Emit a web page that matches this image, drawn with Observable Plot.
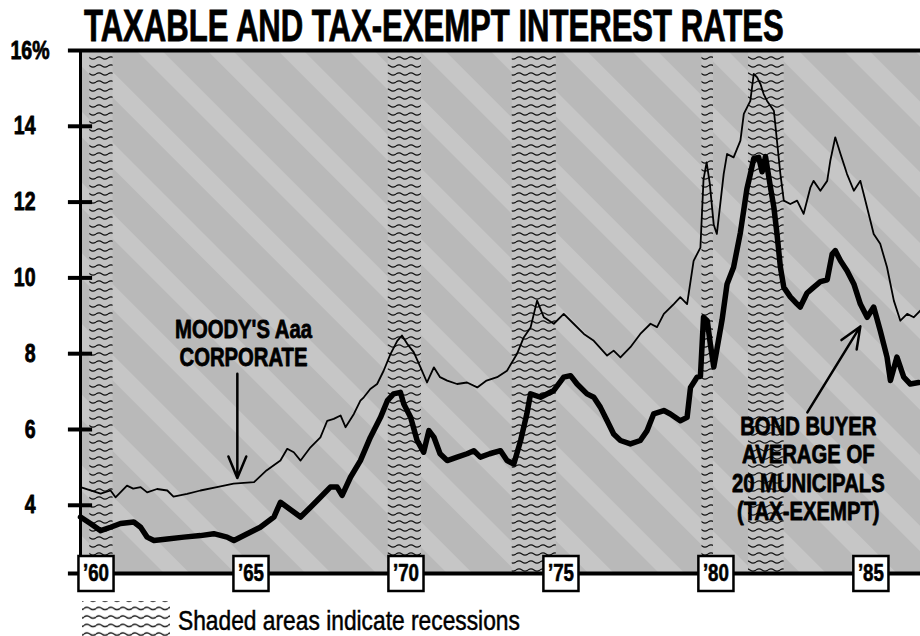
<!DOCTYPE html>
<html><head><meta charset="utf-8">
<script src="https://cdn.jsdelivr.net/npm/d3@7"></script>
<script src="https://cdn.jsdelivr.net/npm/@observablehq/plot@0.6"></script>
<style>
html,body{margin:0;padding:0;background:#fff;}
#wrap{width:920px;height:636px;position:relative;overflow:hidden;}
#wrap > svg{display:block;position:absolute;left:0;}
</style></head><body><div id="wrap"></div>
<script>
// ---------- DATA ----------
const titleText = "TAXABLE AND TAX-EXEMPT INTEREST RATES";
const captionText = "Shaded areas indicate recessions";

const yearTicks = [1960, 1965, 1970, 1975, 1980, 1985];
const rateTicks = [4, 6, 8, 10, 12, 14, 16];

const recStart = [1960.3, 1969.93, 1973.93, 1980.05, 1981.55];
const recEnd   = [1961.05, 1971.0, 1975.35, 1980.42, 1982.7];

// Moody's Aaa corporate (thin line)
const corpYear = [1960.0,1960.65,1960.97,1961.13,1961.5,1961.7,1961.94,1962.15,1962.47,1962.8,1963.0,1963.44,1963.87,1964.4,1964.94,1965.6,1966.0,1966.45,1966.67,1966.88,1967.1,1967.42,1967.74,1967.96,1968.17,1968.39,1968.55,1968.82,1969.03,1969.14,1969.35,1969.57,1969.78,1970.0,1970.22,1970.37,1970.54,1970.75,1970.97,1971.18,1971.4,1971.6,1971.83,1972.15,1972.47,1972.8,1973.1,1973.44,1973.76,1974.08,1974.3,1974.52,1974.73,1974.95,1975.27,1975.59,1975.91,1976.24,1976.56,1976.99,1977.2,1977.42,1977.74,1978.06,1978.39,1978.6,1978.82,1979.14,1979.35,1979.57,1979.78,1980.0,1980.1,1980.2,1980.3,1980.43,1980.53,1980.75,1980.86,1981.07,1981.29,1981.4,1981.61,1981.72,1981.83,1981.94,1982.04,1982.15,1982.37,1982.58,1982.69,1982.9,1983.12,1983.33,1983.55,1983.65,1983.87,1984.09,1984.19,1984.35,1984.52,1984.73,1984.95,1985.16,1985.32,1985.59,1985.8,1986.02,1986.24,1986.45,1986.67,1986.88,1987.1];
const corpRate = [4.48,4.31,4.39,4.21,4.52,4.44,4.48,4.34,4.43,4.39,4.23,4.30,4.39,4.48,4.57,4.61,4.92,5.18,5.49,5.40,5.18,5.53,5.79,6.23,6.28,6.37,6.06,6.41,6.76,6.85,7.07,7.20,7.55,7.99,8.34,8.48,8.26,8.04,7.64,7.24,7.64,7.38,7.29,7.20,7.24,7.11,7.29,7.38,7.55,7.99,8.43,8.69,9.40,8.96,8.79,9.05,8.79,8.52,8.34,7.95,8.08,7.90,8.17,8.52,8.79,8.70,9.05,9.31,9.49,9.31,10.45,10.8,12.6,13.05,12.5,11.4,11.16,12.74,13.27,13.18,13.62,14.33,14.67,15.38,15.29,15.11,14.85,14.67,14.41,12.74,12.04,11.95,12.04,11.69,12.39,12.56,12.30,12.56,13.09,13.71,13.27,12.74,12.30,12.56,12.04,11.16,10.90,10.28,9.40,8.87,9.05,8.96,9.14];

// Bond Buyer average of 20 municipals (thick line)
const muniYear = [1960.0,1960.32,1960.65,1960.97,1961.29,1961.72,1961.94,1962.15,1962.37,1962.8,1963.33,1963.87,1964.3,1964.73,1964.95,1965.38,1965.8,1966.24,1966.45,1966.67,1967.1,1967.42,1967.74,1968.06,1968.28,1968.44,1968.71,1969.03,1969.35,1969.68,1969.9,1970.1,1970.32,1970.43,1970.65,1970.86,1971.07,1971.24,1971.4,1971.6,1971.83,1972.15,1972.47,1972.69,1972.9,1973.2,1973.55,1973.76,1973.98,1974.2,1974.4,1974.52,1974.84,1975.27,1975.59,1975.81,1976.02,1976.34,1976.56,1976.77,1976.99,1977.2,1977.42,1977.74,1978.06,1978.28,1978.49,1978.82,1979.03,1979.35,1979.57,1979.68,1979.89,1980.0,1980.1,1980.22,1980.32,1980.43,1980.55,1980.7,1980.86,1981.07,1981.29,1981.5,1981.61,1981.72,1981.88,1981.99,1982.1,1982.26,1982.37,1982.47,1982.58,1982.69,1982.9,1983.12,1983.22,1983.44,1983.65,1983.87,1984.09,1984.25,1984.35,1984.52,1984.73,1984.95,1985.16,1985.38,1985.59,1985.8,1986.02,1986.13,1986.34,1986.56,1986.77,1987.04];
const muniRate = [3.69,3.52,3.33,3.42,3.52,3.56,3.42,3.16,3.07,3.11,3.16,3.20,3.25,3.16,3.07,3.25,3.42,3.69,4.08,3.95,3.69,3.95,4.21,4.48,4.48,4.26,4.74,5.18,5.79,6.32,6.76,6.94,6.98,6.67,6.32,5.71,5.40,5.97,5.80,5.36,5.18,5.27,5.36,5.44,5.27,5.36,5.44,5.18,5.09,5.71,6.41,6.94,6.85,7.03,7.38,7.42,7.20,6.94,6.85,6.59,6.23,5.88,5.71,5.62,5.71,5.97,6.41,6.50,6.41,6.23,6.32,7.11,7.38,7.4,8.96,8.87,8.25,7.65,8.2,8.9,9.84,10.28,11.2,12.35,12.74,13.15,13.18,12.8,13.2,12.39,11.86,11.16,10.28,9.75,9.5,9.31,9.23,9.6,9.75,9.9,9.95,10.63,10.72,10.45,10.19,9.84,9.31,8.96,9.23,8.61,7.91,7.29,7.91,7.38,7.20,7.24];

// annotations
const moodyLabel = "MOODY'S Aaa\nCORPORATE";
const bondLabel = "BOND BUYER\nAVERAGE OF\n20 MUNICIPALS\n(TAX-EXEMPT)";

// ---------- TABLES ----------
const corp = corpYear.map((t, i) => ({year: t, rate: corpRate[i]}));
const muni = muniYear.map((t, i) => ({year: t, rate: muniRate[i]}));
const recessions = recStart.map((s, i) => ({start: s, end: recEnd[i]}));
const notes = [
  {label: moodyLabel, x: 1965.26, y: 8.29},
  {label: bondLabel, x: 1983.48, y: 4.97}
];
const pointers = [
  {x1: 1965.06, y1: 7.47, x2: 1965.06, y2: 4.72},
  {x1: 1983.45, y1: 6.45, x2: 1985.16, y2: 8.72}
];

const xMin = 1960, xMax = 1987.1, yMin = 2.2, yMax = 16;
const stub = 0.39;
const FONT = "'Liberation Sans', Arial, Helvetica, sans-serif";

const wrap = document.getElementById("wrap");

// fit a text element horizontally to a target width by a scale transform
function fitText(node, x, y, target) {
  const w = node.getComputedTextLength();
  const s = target / w;
  node.setAttribute("x", 0);
  node.setAttribute("y", 0);
  node.setAttribute("transform", `translate(${x},${y}) scale(${s},1)`);
}

// ---------- PLOT ----------
const chart = Plot.plot({
  width: 920, height: 566,
  marginLeft: 80, marginRight: 0, marginTop: 20, marginBottom: 23,
  x: {domain: [xMin, xMax], axis: null},
  y: {domain: [yMin, yMax], axis: null},
  style: {fontFamily: FONT, background: "transparent", overflow: "visible", color: "#000"},
  marks: [
    Plot.frame({fill: "url(#bgpat)", stroke: "none"}),
    Plot.rect(recessions, {x1: "start", x2: "end", fill: "url(#recpat)"}),
    Plot.line(corp, {x: "year", y: "rate", stroke: "#000", strokeWidth: 1.8, strokeLinejoin: "round"}),
    Plot.line(muni, {x: "year", y: "rate", stroke: "#000", strokeWidth: 5.5, strokeLinejoin: "round", strokeLinecap: "round"}),
    Plot.ruleX([xMin], {y1: yMin, y2: yMax, stroke: "#000", strokeWidth: 3}),
    Plot.ruleY([yMin, yMax], {x1: xMin - stub, x2: xMax, stroke: "#000", strokeWidth: 4}),
    Plot.ruleY(rateTicks.filter(d => d < yMax), {x1: xMin - stub, x2: xMin + stub, stroke: "#000", strokeWidth: 4}),
    Plot.text(rateTicks.filter(d => d < yMax), {x: xMin, y: d => d, text: d => String(d), textAnchor: "end", dx: -45, fontSize: 25, fontWeight: "bold", fill: "#000", stroke: "#000", strokeWidth: 0.8}),
    Plot.text(rateTicks.filter(d => d === yMax), {x: xMin, y: d => d, text: d => d + "%", textAnchor: "start", dx: -70, fontSize: 25, fontWeight: "bold", fill: "#000", stroke: "#000", strokeWidth: 0.8}),
    Plot.dot(yearTicks, {x: d => d + 0.5, y: yMin, symbol: "square", r: 19.8, fill: "#fff", stroke: "#000", strokeWidth: 2.5}),
    Plot.text(yearTicks, {x: d => d + 0.5, y: yMin, text: d => "\u2019" + String(d).slice(2), fontSize: 24, fontWeight: "bold", fill: "#000", stroke: "#000", strokeWidth: 0.6}),
    Plot.arrow(pointers, {x1: "x1", y1: "y1", x2: "x2", y2: "y2", stroke: "#000", strokeWidth: 2.5, headLength: 14, headAngle: 45}),
    Plot.text(notes, {x: "x", y: "y", text: "label", fontSize: 26, lineHeight: 1.08, fontWeight: "bold", fill: "#000", stroke: "#000", strokeWidth: 0.8})
  ]
});
chart.insertAdjacentHTML("afterbegin", `<defs>
<pattern id="bgpat" patternUnits="userSpaceOnUse" width="50" height="50" patternTransform="rotate(45)">
<rect width="50" height="50" fill="#b9b9b9"/><rect width="50" height="18" fill="#c6c6c6"/>
</pattern>
<pattern id="recpat" patternUnits="userSpaceOnUse" width="12" height="8">
<rect width="12" height="8" fill="#c2c2c2"/><path d="M0 4 Q3 1.8 6 4 T12 4" fill="none" stroke="#111" stroke-width="1.2"/>
</pattern></defs>`);
chart.style.top = "30px";
wrap.appendChild(chart);
// condense all chart text (narrow gothic look)
chart.querySelectorAll("text").forEach(t => {
  const tr = t.getAttribute("transform");
  if (tr) t.setAttribute("transform", tr + " scale(0.78,1)");
});

// ---------- TITLE ----------
const tsvg = d3.create("svg").attr("width", 920).attr("height", 52).style("top", "0px");
const ttext = tsvg.append("text")
  .attr("font-family", FONT).attr("font-weight", "bold").attr("font-size", 44)
  .attr("stroke", "#000").attr("stroke-width", 0.8)
  .text(titleText);
wrap.appendChild(tsvg.node());
fitText(ttext.node(), 84, 41, 700);

// ---------- CAPTION ----------
const csvg = d3.create("svg").attr("width", 920).attr("height", 40).style("top", "596px");
csvg.append("defs").html(`<pattern id="legpat" patternUnits="userSpaceOnUse" width="12" height="8.5">
<rect width="12" height="8.5" fill="#fff"/><path d="M0 4 Q3 1.5 6 4 T12 4" fill="none" stroke="#111" stroke-width="1.4"/></pattern>`);
csvg.append("rect").attr("x", 82).attr("y", 5).attr("width", 88).attr("height", 35).attr("fill", "url(#legpat)");
const ctext = csvg.append("text")
  .attr("font-family", FONT).attr("font-size", 28)
  .attr("stroke", "#000").attr("stroke-width", 0.5)
  .text(captionText);
wrap.appendChild(csvg.node());
fitText(ctext.node(), 178, 34, 342);
</script></body></html>
